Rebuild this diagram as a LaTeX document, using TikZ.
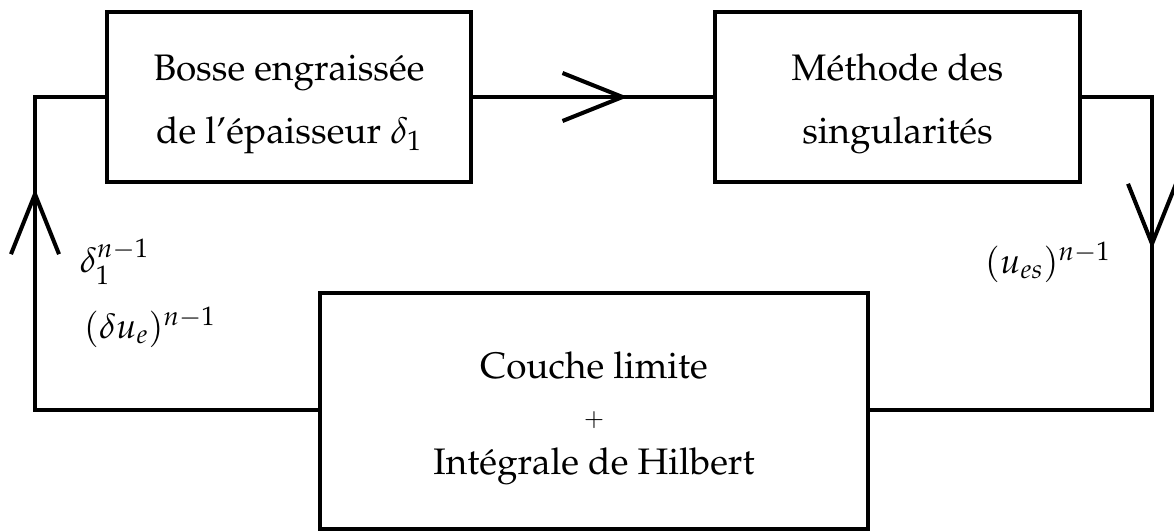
\documentclass[tikz,border=0pt]{standalone}
\usepackage[T1]{fontenc}
\usepackage{amsmath}
\usepackage{mathpazo}
\usetikzlibrary{decorations.markings}

\tikzset{
	boite/.style = {draw, inner sep=0pt, align=center},
	fleche/.style = {decoration={markings, mark=at position #1 with
		{\draw (-60,24) -- (0,0) -- (-60,-24);}}, postaction=decorate},
	etiquette/.style = {anchor=base west, inner sep=0pt,
		font=\fontsize{20}{24}\selectfont}
}

\begin{document}
\begin{tikzpicture}[x=0.02cm, y=-0.02cm, line width=2.3pt,
	font=\fontsize{21}{35.9}\selectfont]
\useasboundingbox (0,0) rectangle (1174,531);

\node[boite, minimum width=7.28cm, minimum height=3.4cm,
	text height=2.08cm, text depth=0.2cm] (bosse) at (289,97)
	{Bosse engraiss\'ee\\de l'\'epaisseur $\delta_1$};
\node[boite, minimum width=7.3cm, minimum height=3.4cm,
	text height=2.08cm, text depth=0.2cm] (methode) at (897.5,97)
	{M\'ethode des\\singularit\'es};
\node[boite, minimum width=10.96cm, minimum height=4.72cm,
	font=\fontsize{21}{27.6}\selectfont,
	text height=2.76cm, text depth=0.2cm] (couche) at (594,411)
	{Couche limite\\{\fontsize{14}{15}\selectfont $+$}\\Int\'egrale de Hilbert};

\coordinate (hg) at (35,97);
\coordinate (bg) at (35,410);
\coordinate (hd) at (1152,97);
\coordinate (bd) at (1152,410);

\draw[fleche=0.623] (bosse.east) -- (methode.west);
\draw[fleche=0.326] (methode.east) -- (hd) -- (bd) -- (bd -| couche.east);
\draw[fleche=0.749] (bg -| couche.west) -- (bg) -- (hg) -- (bosse.west);

\node[etiquette] (delta) at (78,272) {$\delta_1^{n-1}$};
\node[etiquette] (deltau) at (82,338) {$(\delta u_e)^{n-1}$};
\node[etiquette] (ues) at (983,273) {$(u_{es})^{n-1}$};
\end{tikzpicture}
\end{document}
